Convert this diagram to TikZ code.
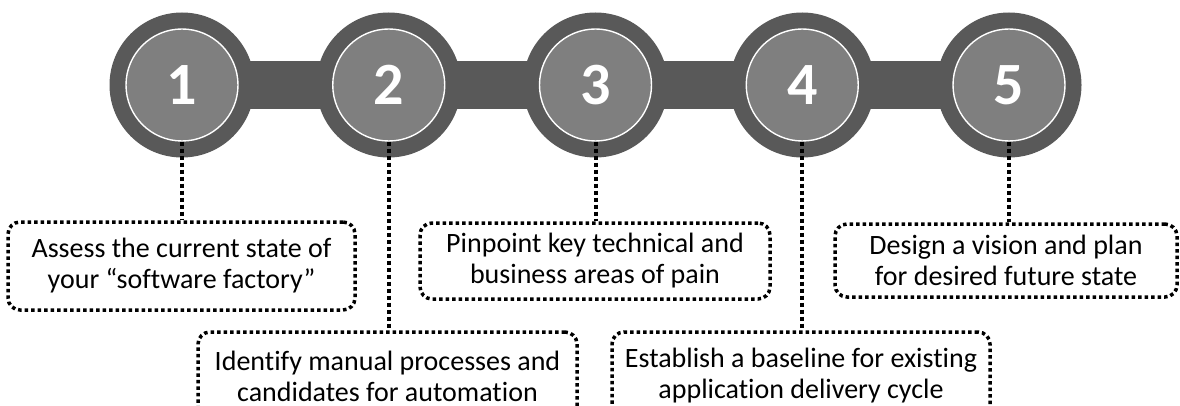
\documentclass[tikz,border=0pt]{standalone}
\usepackage{fontspec}
\setmainfont[Ligatures=NoCommon]{Carlito}
\usetikzlibrary{backgrounds}
\definecolor{ringgray}{HTML}{595959}
\definecolor{coregray}{HTML}{7F7F7F}
\tikzset{
  ring/.style={circle, fill=ringgray, minimum size=145pt, inner sep=0pt},
  core/.style={circle, fill=coregray, draw=white, line width=1.4pt,
    minimum size=112pt, inner sep=0pt, text=white,
    font=\fontsize{60}{64}\selectfont\bfseries},
  dotline/.style={line width=4pt, dash pattern=on 4pt off 3pt, black},
  stepbox/.style={draw=black, line width=3.5pt, dash pattern=on 3.5pt off 3pt,
    rounded corners=12pt, inner sep=0pt, align=center,
    font=\fontsize{28}{31}\selectfont}
}
\begin{document}
\begin{tikzpicture}[x=1pt, y=-1pt]
  \useasboundingbox (0,0) rectangle (1180,406);
  \clip (0,0) rectangle (1180,406);

  % numbered steps
  \foreach \i/\x in {1/182, 2/388.75, 3/595.5, 4/802.25, 5/1009} {
    \node[ring] (o\i) at (\x,85) {};
    \node[core] (c\i) at (\x,85) {\i};
  }

  % connecting bar behind the rings
  \begin{scope}[on background layer]
    \fill[ringgray] ([yshift=24pt]o1.center) rectangle ([yshift=-24pt]o5.center);
  \end{scope}

  % description boxes
  \node[stepbox, minimum width=347pt, minimum height=88pt] (b1) at (181.5,266)
    {Assess the current state of\\your “software factory”};
  \node[stepbox, minimum width=379pt, minimum height=88pt] (b2) at (387.5,376)
    {Identify manual processes and\\candidates for automation};
  \node[stepbox, minimum width=350pt, minimum height=76pt] (b3) at (595,261)
    {Pinpoint key technical and\\business areas of pain};
  \node[stepbox, minimum width=378pt, minimum height=88pt] (b4) at (801,376)
    {Establish a baseline for existing\\application delivery cycle};
  \node[stepbox, minimum width=342pt, minimum height=73pt] (b5) at (1006,260.5)
    {Design a vision and plan\\for desired future state};

  % leaders from steps to boxes
  \foreach \i in {1,...,5} {
    \draw[dotline] (c\i.south) -- (c\i.south |- b\i.north);
  }
\end{tikzpicture}
\end{document}
